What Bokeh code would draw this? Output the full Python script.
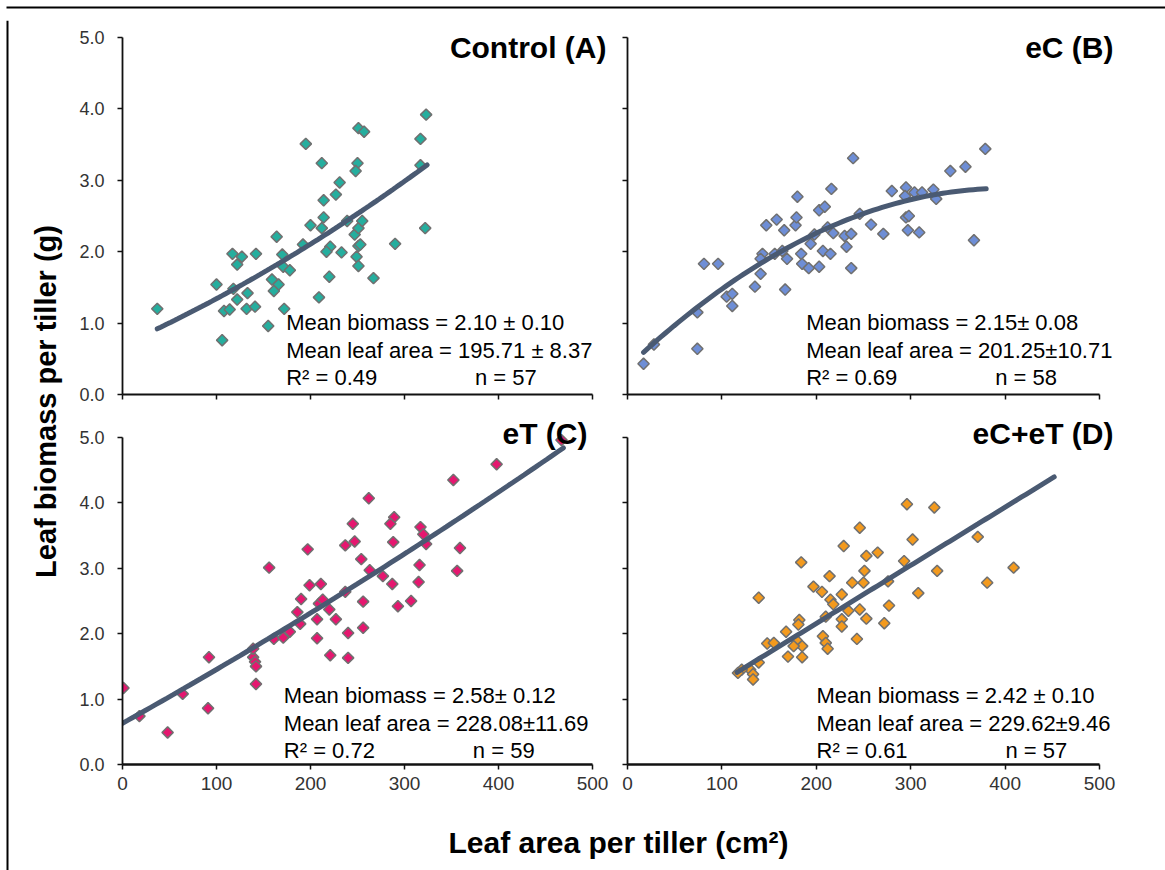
import numpy as np
from bokeh.plotting import figure
from bokeh.layouts import row, column
from bokeh.models import Range1d, FixedTicker, PrintfTickFormatter, Label
from bokeh.embed import file_html
from bokeh.resources import INLINE

FONT = "Liberation Sans"

# ---------------- data ----------------
x_ticks = [0, 100, 200, 300, 400, 500]
y_ticks = [0, 1, 2, 3, 4, 5]

# Control (A)
a_area = [37, 106, 100, 108, 114, 117, 127, 122, 118, 122, 133, 132, 141, 142, 155,
          164, 170, 159, 166, 161, 172, 171, 178, 192, 195, 200, 209, 212, 214, 212,
          214, 221, 217, 220, 227, 231, 233, 239, 251, 250, 248, 247, 251, 251, 249,
          251, 323, 257, 317, 317, 255, 253, 290, 322, 267]
a_biomass = [1.20, 0.76, 1.54, 1.17, 1.19, 1.97, 1.93, 1.82, 1.48, 1.33, 1.42, 1.20, 1.23, 1.97, 0.96,
             2.21, 1.96, 1.61, 1.54, 1.45, 1.20, 1.79, 1.74, 2.10, 3.51, 2.37, 1.36, 3.24, 2.72, 2.33,
             2.48, 2.07, 2.00, 1.65, 2.80, 2.97, 1.99, 2.43, 3.73, 3.24, 3.13, 2.24, 2.33, 2.08, 1.93,
             1.80, 3.92, 3.68, 3.58, 3.21, 2.43, 2.10, 2.11, 2.33, 1.63]

# eC (B)
b_area = [17, 28, 74, 74, 81, 96, 105, 111, 111, 135, 141, 143, 141, 147, 158,
          166, 156, 167, 169, 164, 178, 179, 180, 184, 185, 192, 203, 194, 198, 203,
          209, 216, 207, 215, 212, 218, 230, 237, 232, 237, 239, 379, 358, 342, 280,
          295, 294, 304, 312, 324, 327, 295, 298, 258, 271, 297, 309, 367, 246]
b_biomass = [0.43, 0.70, 0.64, 1.15, 1.83, 1.83, 1.37, 1.41, 1.24, 1.51, 1.69, 1.97, 1.90, 2.37, 2.45,
             2.30, 1.97, 1.47, 1.90, 2.01, 2.37, 2.48, 2.77, 1.97, 1.83, 1.77, 1.79, 2.11, 2.24, 2.58,
             2.63, 2.88, 2.01, 1.97, 2.34, 2.26, 2.22, 2.25, 2.07, 1.77, 3.31, 3.44, 3.19, 3.13, 2.85,
             2.90, 2.78, 2.83, 2.83, 2.87, 2.74, 2.48, 2.50, 2.38, 2.25, 2.30, 2.27, 2.16, 2.53]

# eT (C)
c_area = [1, 18, 48, 64, 91, 92, 139, 141, 142, 139, 142, 156, 161, 171, 178,
          186, 189, 190, 197, 199, 211, 207, 207, 209, 213, 220, 227, 221, 240, 240,
          237, 237, 467, 398, 352, 262, 245, 289, 285, 247, 288, 317, 320, 323, 359,
          254, 263, 277, 287, 316, 315, 356, 256, 293, 307, 256]
c_biomass = [1.17, 0.74, 0.49, 1.08, 0.86, 1.64, 1.64, 1.57, 1.50, 1.77, 1.23, 3.01, 1.92, 1.94, 2.03,
             2.33, 2.15, 2.53, 3.29, 2.74, 2.76, 2.22, 1.93, 2.46, 2.52, 2.37, 2.22, 1.67, 2.01, 1.63,
             3.35, 2.64, 4.96, 4.59, 4.35, 4.07, 3.68, 3.78, 3.68, 3.41, 3.40, 3.63, 3.52, 3.37, 3.31,
             3.14, 2.97, 2.88, 2.76, 3.05, 2.79, 2.96, 2.49, 2.42, 2.50, 2.09]

# eC+eT (D)
d_area = [296, 325, 246, 371, 302, 229, 253, 265, 184, 293, 409, 251, 328, 214, 381,
          238, 250, 276, 197, 206, 308, 139, 227, 215, 277, 218, 234, 246, 253, 227,
          227, 272, 243, 210, 182, 181, 168, 179, 185, 207, 210, 212, 176, 170, 185,
          148, 155, 139, 130, 121, 133, 133, 117]
d_biomass = [3.98, 3.93, 3.62, 3.48, 3.44, 3.34, 3.19, 3.24, 3.09, 3.11, 3.01, 2.96, 2.96, 2.88, 2.78,
             2.78, 2.78, 2.80, 2.72, 2.64, 2.62, 2.55, 2.60, 2.52, 2.43, 2.45, 2.35, 2.37, 2.23, 2.22,
             2.11, 2.16, 1.92, 2.26, 2.21, 2.14, 2.03, 1.90, 1.81, 1.96, 1.86, 1.77, 1.81, 1.65, 1.64,
             1.85, 1.86, 1.56, 1.45, 1.45, 1.38, 1.30, 1.40]

# trend lines (polynomial coefficients c0, c1, c2) and their extents
a_trend = [0.694, 0.005898, 5.81e-6]
a_trend_range = [37, 324]
b_trend = [0.3832, 0.012501, -1.5605e-5]
b_trend_range = [17, 380]
c_trend = [0.63, 0.008024, 2.03e-6]
c_trend_range = [0, 469]
d_trend = [0.378, 0.00889, 0.0]
d_trend_range = [116, 452]

titles = ["Control (A)", "eC (B)", "eT (C)", "eC+eT (D)"]
stats = [
    ["Mean biomass = 2.10 \u00b1 0.10", "Mean leaf area = 195.71 \u00b1 8.37", "R\u00b2 = 0.49", "n = 57"],
    ["Mean biomass = 2.15\u00b1 0.08", "Mean leaf area = 201.25\u00b110.71", "R\u00b2 = 0.69", "n = 58"],
    ["Mean biomass = 2.58\u00b1 0.12", "Mean leaf area = 228.08\u00b111.69", "R\u00b2 = 0.72", "n = 59"],
    ["Mean biomass = 2.42 \u00b1 0.10", "Mean leaf area = 229.62\u00b19.46", "R\u00b2 = 0.61", "n = 57"],
]
x_title = "Leaf area per tiller (cm\u00b2)"
y_title = "Leaf biomass per tiller (g)"

colors = ["#25AE9E", "#6E8ED6", "#E5176F", "#F39A1E"]
TREND_COLOR = "#4A5A72"
AXIS_COLOR = "#111111"
TICK_LABEL_COLOR = "#333333"


def strip(width, height, xr, yr):
    p = figure(width=width, height=height, x_range=Range1d(*xr), y_range=Range1d(*yr),
               output_backend="svg", toolbar_location=None,
               min_border_left=0, min_border_right=0, min_border_top=0, min_border_bottom=0)
    p.axis.visible = False
    p.grid.visible = False
    p.outline_line_color = None
    return p


def hide_labels(ax):
    ax.major_label_text_font_size = "1px"
    ax.major_label_text_color = None
    ax.major_label_standoff = 0


def make_panel(xs, ys, color, coef, trange, title, title_pos, lines, stats_x, stats_ys, n_x,
               width, height, mbl, mbb, x_end, y_end, show_y_labels, show_x_labels, x_axis_w):
    # the frame is stretched to the figure's top/right edges so that texts are not clipped;
    # the axes themselves are bounded to 0-500 and 0-5
    p = figure(width=width, height=height, x_range=Range1d(0, x_end), y_range=Range1d(0, y_end),
               output_backend="svg", toolbar_location=None,
               min_border_left=mbl, min_border_right=0, min_border_top=0, min_border_bottom=mbb)
    p.grid.visible = False
    p.outline_line_color = None
    p.xaxis.ticker = FixedTicker(ticks=x_ticks)
    p.yaxis.ticker = FixedTicker(ticks=y_ticks)
    p.xaxis.bounds = (x_ticks[0], x_ticks[-1])
    p.yaxis.bounds = (y_ticks[0], y_ticks[-1])
    p.yaxis.formatter = PrintfTickFormatter(format="%.1f")
    for ax in p.axis:
        ax.minor_tick_line_color = None
        ax.major_tick_in = 0
        ax.major_tick_out = 5
        ax.axis_line_color = AXIS_COLOR
        ax.major_tick_line_color = AXIS_COLOR
        ax.major_label_text_font = FONT
        ax.major_label_text_color = TICK_LABEL_COLOR
    p.yaxis.axis_line_width = 1.8
    p.yaxis.major_tick_line_width = 1.5
    p.xaxis.axis_line_width = x_axis_w
    p.xaxis.major_tick_line_width = 1.5
    if show_y_labels:
        p.yaxis.major_label_text_font_size = "18px"
        p.yaxis.major_label_standoff = 13
    else:
        hide_labels(p.yaxis[0])
    if show_x_labels:
        p.xaxis.major_label_text_font_size = "19px"
        p.xaxis.major_label_standoff = 7
    else:
        hide_labels(p.xaxis[0])

    p.scatter(xs, ys, marker="square", size=8, angle=np.pi / 4,
              fill_color=color, line_color="#707070", line_width=1.5)

    tx = np.linspace(trange[0], trange[1], 80)
    ty = coef[0] + coef[1] * tx + coef[2] * tx ** 2
    p.line(tx, ty, line_color=TREND_COLOR, line_width=5, line_cap="round")

    p.add_layout(Label(x=title_pos[0], y=title_pos[1], text=title, text_font=FONT,
                       text_font_size="30px", text_font_style="bold", text_color="black",
                       text_align="right", text_baseline="alphabetic"))
    for txt, yy in zip(lines[:3], stats_ys):
        p.add_layout(Label(x=stats_x, y=yy, text=txt, text_font=FONT, text_font_size="22px",
                           text_color="black", text_align="left", text_baseline="alphabetic"))
    p.add_layout(Label(x=n_x, y=stats_ys[2], text=lines[3], text_font=FONT, text_font_size="22px",
                       text_color="black", text_align="left", text_baseline="alphabetic"))
    return p


top_ys = [1.004, 0.616, 0.242]
bot_ys = [1.055, 0.627, 0.214]

LEFT_X_END = 519.15
RIGHT_X_END = 569.9
TOP_Y_END = 5.238
BOT_Y_END = 5.336

pa = make_panel(a_area, a_biomass, colors[0], a_trend, a_trend_range, titles[0], (514.9, 4.856),
                stats[0], 174.1, top_ys, 375.0,
                540, 395, 52, 21, LEFT_X_END, TOP_Y_END, True, False, 1.8)
pb = make_panel(b_area, b_biomass, colors[1], b_trend, b_trend_range, titles[1], (514.8, 4.864),
                stats[1], 189.3, top_ys, 389.5,
                555, 395, 17, 21, RIGHT_X_END, TOP_Y_END, False, False, 1.8)
pc = make_panel(c_area, c_biomass, colors[2], c_trend, c_trend_range, titles[2], (494.7, 5.057),
                stats[2], 171.6, bot_ys, 372.7,
                540, 389, 52, 40, LEFT_X_END, BOT_Y_END, True, True, 2.6)
pd_ = make_panel(d_area, d_biomass, colors[3], d_trend, d_trend_range, titles[3], (514.8, 5.057),
                 stats[3], 200.2, bot_ys, 400.4,
                 555, 389, 17, 40, RIGHT_X_END, BOT_Y_END, False, True, 2.6)

# frame strips (top border line, left border line + y title, x title)
BORDER_POS = 6
BORDER_W = 2
top = strip(1165, 20, (0, 1165), (20, 0))
top.quad(left=[BORDER_POS], right=[1165], top=[BORDER_POS], bottom=[BORDER_POS + BORDER_W],
         fill_color="black", line_color=None)

left = strip(70, 850, (0, 70), (870, 20))
left.quad(left=[BORDER_POS], right=[BORDER_POS + BORDER_W], top=[20], bottom=[870],
          fill_color="black", line_color=None)
left.add_layout(Label(x=45, y=401, text=y_title, angle=np.pi / 2, text_font=FONT,
                      text_font_size="29px", text_font_style="bold", text_color="black",
                      text_align="center", text_baseline="middle"))

xlab = strip(1095, 66, (70, 1165), (870, 804))
xlab.add_layout(Label(x=618, y=842, text=x_title, text_font=FONT, text_font_size="30px",
                      text_font_style="bold", text_color="black", text_align="center",
                      text_baseline="alphabetic"))

layout = column(top, row(left, column(row(pa, pb), row(pc, pd_), xlab)))

open("out.html", "w").write(file_html(layout, INLINE))
